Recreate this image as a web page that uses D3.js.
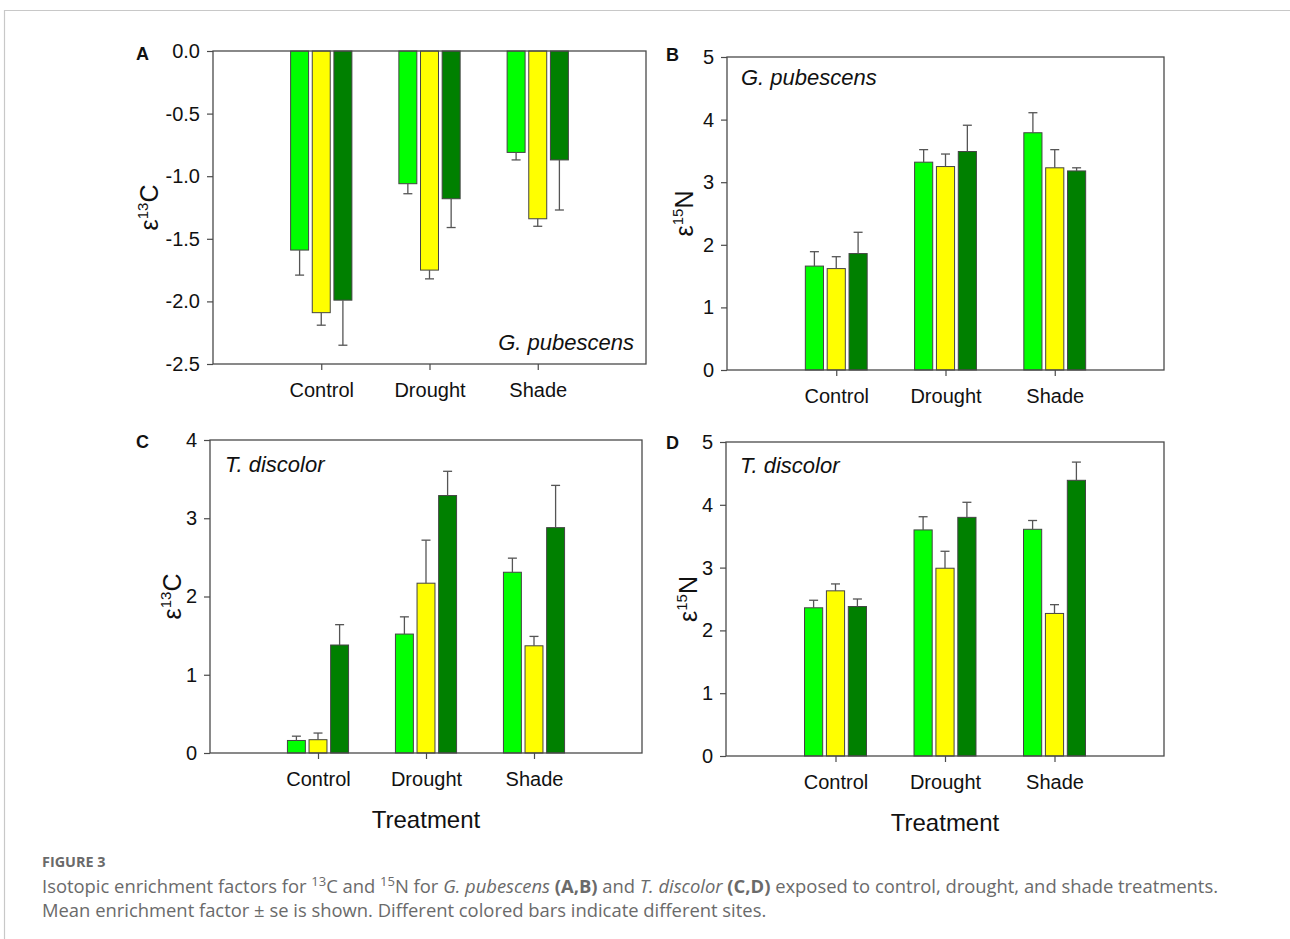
<!DOCTYPE html>
<html><head><meta charset="utf-8">
<script src="https://cdn.jsdelivr.net/npm/d3@7"></script>
<style>
html,body{margin:0;padding:0;background:#fff;}
svg{display:block;}
</style></head>
<body>
<svg id="chart" width="1290" height="939"></svg>
<script>
// ---------------- DATA ----------------
const categories = ["Control", "Drought", "Shade"];
const siteColors = ["#00ff00", "#ffff00", "#008000"];

// Panel A: ε13C, G. pubescens  (rows: treatment, cols: site)
const aMeans = [[-1.59, -2.09, -1.99], [-1.06, -1.75, -1.18], [-0.81, -1.34, -0.87]];
const aErrors = [[0.20, 0.10, 0.36], [0.08, 0.07, 0.23], [0.06, 0.06, 0.40]];
const aTicks = [0.0, -0.5, -1.0, -1.5, -2.0, -2.5];

// Panel B: ε15N, G. pubescens
const bMeans = [[1.66, 1.62, 1.86], [3.32, 3.25, 3.49], [3.79, 3.23, 3.18]];
const bErrors = [[0.23, 0.19, 0.34], [0.20, 0.20, 0.42], [0.32, 0.29, 0.05]];
const bTicks = [0, 1, 2, 3, 4, 5];

// Panel C: ε13C, T. discolor
const cMeans = [[0.16, 0.17, 1.38], [1.52, 2.17, 3.29], [2.31, 1.37, 2.88]];
const cErrors = [[0.055, 0.085, 0.26], [0.22, 0.55, 0.31], [0.18, 0.12, 0.54]];
const cTicks = [0, 1, 2, 3, 4];

// Panel D: ε15N, T. discolor
const dMeans = [[2.36, 2.63, 2.38], [3.60, 2.99, 3.80], [3.61, 2.27, 4.39]];
const dErrors = [[0.12, 0.11, 0.12], [0.21, 0.27, 0.24], [0.14, 0.14, 0.29]];
const dTicks = [0, 1, 2, 3, 4, 5];

// ---------------- LAYOUT ----------------
const svg = d3.select("#chart");
const FONT = "'Liberation Sans', Arial, sans-serif";
const AX = "#4a4a4a";

// outer frame
svg.append("path").attr("d", "M4.5,939 L4.5,10.5 L1295,10.5")
  .attr("fill", "none").attr("stroke", "#c8c8c8").attr("stroke-width", 1.2);

const panels = [
  {letter: "A", means: aMeans, errors: aErrors, ticks: aTicks, domain: [-2.5, 0], fmt: d => d.toFixed(1),
   left: 213, right: 646, top: 51, bottom: 364, iso: ["13", "C"], labX: 158,
   species: "G. pubescens", spX: 634, spY: 350, spAnchor: "end", treat: false, letX: 136, letY: 60},
  {letter: "B", means: bMeans, errors: bErrors, ticks: bTicks, domain: [0, 5], fmt: d => String(d),
   left: 727, right: 1164, top: 57, bottom: 370, iso: ["15", "N"], labX: 693,
   species: "G. pubescens", spX: 741, spY: 85, spAnchor: "start", treat: false, letX: 666, letY: 61},
  {letter: "C", means: cMeans, errors: cErrors, ticks: cTicks, domain: [0, 4], fmt: d => String(d),
   left: 210, right: 642, top: 440, bottom: 753, iso: ["13", "C"], labX: 181,
   species: "T. discolor", spX: 225, spY: 472, spAnchor: "start", treat: true, letX: 136, letY: 448},
  {letter: "D", means: dMeans, errors: dErrors, ticks: dTicks, domain: [0, 5], fmt: d => String(d),
   left: 726, right: 1164, top: 442, bottom: 756, iso: ["15", "N"], labX: 697,
   species: "T. discolor", spX: 740, spY: 473, spAnchor: "start", treat: true, letX: 666, letY: 449}
];

const offsets = [-0.2, 0, 0.2];
const halfW = 0.083;

panels.forEach(p => {
  const g = svg.append("g");
  const x = d3.scaleLinear().domain([0, 4]).range([p.left, p.right]);
  const y = d3.scaleLinear().domain(p.domain).range([p.bottom, p.top]);
  const base = y(0);

  // bars and error bars
  const rows = [];
  p.means.forEach((row, ci) => row.forEach((v, si) => rows.push({ci, si, v, e: p.errors[ci][si]})));

  g.selectAll("rect.bar").data(rows).join("rect")
    .attr("class", "bar")
    .attr("x", d => x(d.ci + 1 + offsets[d.si] - halfW))
    .attr("width", d => x(d.ci + 1 + offsets[d.si] + halfW) - x(d.ci + 1 + offsets[d.si] - halfW))
    .attr("y", d => Math.min(y(d.v), base))
    .attr("height", d => Math.abs(y(d.v) - base))
    .attr("fill", d => siteColors[d.si])
    .attr("stroke", "#444").attr("stroke-width", 1);

  const errEnd = d => d.v < 0 ? d.v - d.e : d.v + d.e;
  g.selectAll("line.err").data(rows).join("line")
    .attr("x1", d => x(d.ci + 1 + offsets[d.si])).attr("x2", d => x(d.ci + 1 + offsets[d.si]))
    .attr("y1", d => y(d.v)).attr("y2", d => y(errEnd(d)))
    .attr("stroke", "#555").attr("stroke-width", 1.3);
  g.selectAll("line.cap").data(rows).join("line")
    .attr("x1", d => x(d.ci + 1 + offsets[d.si]) - 4.5).attr("x2", d => x(d.ci + 1 + offsets[d.si]) + 4.5)
    .attr("y1", d => y(errEnd(d))).attr("y2", d => y(errEnd(d)))
    .attr("stroke", "#555").attr("stroke-width", 1.3);

  // frame
  g.append("rect").attr("x", p.left).attr("y", p.top)
    .attr("width", p.right - p.left).attr("height", p.bottom - p.top)
    .attr("fill", "none").attr("stroke", AX).attr("stroke-width", 1.3);

  // y axis
  const yAxis = d3.axisLeft(y).tickValues(p.ticks).tickFormat(p.fmt).tickSize(6).tickPadding(7);
  const ya = g.append("g").attr("transform", `translate(${p.left},0)`).call(yAxis);
  ya.select(".domain").remove();
  ya.selectAll(".tick line").attr("stroke", AX).attr("stroke-width", 1.2);
  ya.selectAll(".tick text").attr("font-family", FONT).attr("font-size", 20).attr("fill", "#111");

  // x axis
  const xAxis = d3.axisBottom(x).tickValues([1, 2, 3]).tickFormat(d => categories[d - 1]).tickSize(6).tickPadding(10);
  const xa = g.append("g").attr("transform", `translate(0,${p.bottom})`).call(xAxis);
  xa.select(".domain").remove();
  xa.selectAll(".tick line").attr("stroke", AX).attr("stroke-width", 1.2);
  xa.selectAll(".tick text").attr("font-family", FONT).attr("font-size", 20).attr("fill", "#111")
    .attr("dy", null).attr("y", 33).attr("dominant-baseline", "auto");

  // y label  ε^13C
  const cy = (p.top + p.bottom) / 2;
  const yl = g.append("text").attr("transform", `translate(${p.labX},${cy}) rotate(-90)`)
    .attr("text-anchor", "middle").attr("font-family", FONT).attr("font-size", 25).attr("fill", "#111");
  yl.append("tspan").text("ε");
  yl.append("tspan").attr("font-size", 15).attr("dy", -10).text(p.iso[0]);
  yl.append("tspan").attr("dy", 10).text(p.iso[1]);

  // species label
  g.append("text").attr("x", p.spX).attr("y", p.spY).attr("text-anchor", p.spAnchor)
    .attr("font-family", FONT).attr("font-size", 22).attr("font-style", "italic").attr("fill", "#111")
    .text(p.species);

  // panel letter
  g.append("text").attr("x", p.letX).attr("y", p.letY)
    .attr("font-family", FONT).attr("font-size", 18).attr("font-weight", "bold").attr("fill", "#111")
    .text(p.letter);

  if (p.treat) {
    g.append("text").attr("x", (p.left + p.right) / 2).attr("y", p.bottom + 75)
      .attr("text-anchor", "middle").attr("font-family", FONT).attr("font-size", 24).attr("fill", "#111")
      .text("Treatment");
  }
});

// ---------------- CAPTION ----------------
const CF = "'Open Sans', 'Noto Sans', sans-serif";
svg.append("text").attr("x", 42).attr("y", 867).attr("font-family", CF).attr("font-size", 14.4)
  .attr("font-weight", "bold").attr("fill", "#6a6a6a").text("FIGURE 3");

const l1 = svg.append("text").attr("x", 42).attr("y", 893).attr("font-family", CF)
  .attr("font-size", 18.4).attr("fill", "#6a6a6a");
l1.append("tspan").text("Isotopic enrichment factors for ");
l1.append("tspan").attr("font-size", 13).attr("dy", -7).text("13");
l1.append("tspan").attr("dy", 7).text("C and ");
l1.append("tspan").attr("font-size", 13).attr("dy", -7).text("15");
l1.append("tspan").attr("dy", 7).text("N for ");
l1.append("tspan").attr("font-style", "italic").text("G. pubescens");
l1.append("tspan").text(" ");
l1.append("tspan").attr("font-weight", "bold").text("(A,B)");
l1.append("tspan").text(" and ");
l1.append("tspan").attr("font-style", "italic").text("T. discolor");
l1.append("tspan").text(" ");
l1.append("tspan").attr("font-weight", "bold").text("(C,D)");
l1.append("tspan").text(" exposed to control, drought, and shade treatments.");

svg.append("text").attr("x", 42).attr("y", 917).attr("font-family", CF)
  .attr("font-size", 18.4).attr("fill", "#6a6a6a")
  .text("Mean enrichment factor ± se is shown. Different colored bars indicate different sites.");
</script>
</body></html>
